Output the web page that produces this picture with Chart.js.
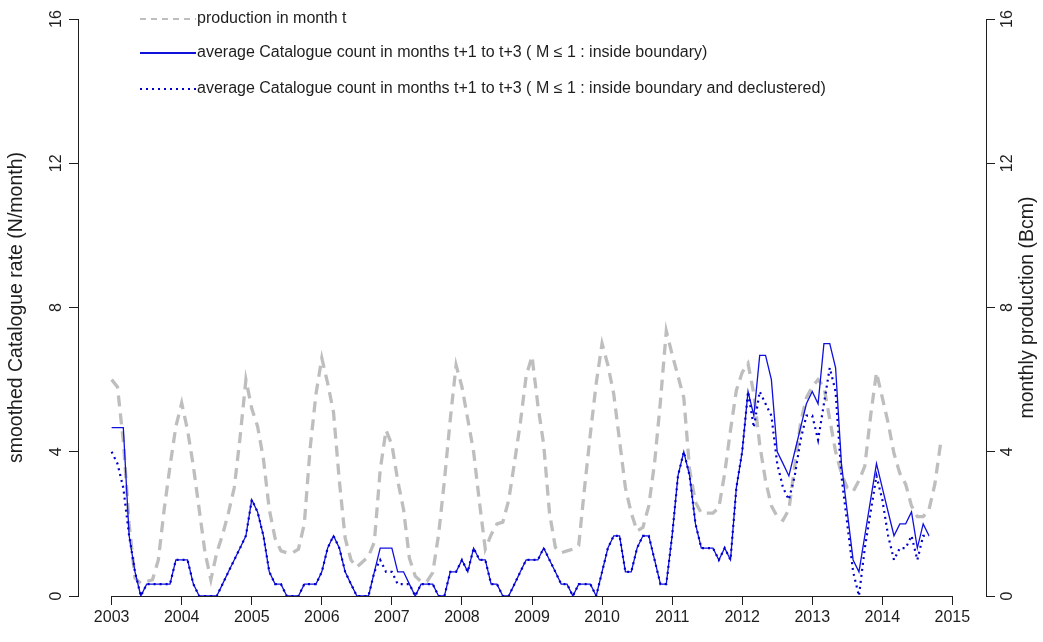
<!DOCTYPE html>
<html>
<head>
<meta charset="utf-8">
<script src="https://cdn.jsdelivr.net/npm/chart.js@4.4.1/dist/chart.umd.min.js"></script>
<style>
  html, body { margin: 0; padding: 0; background: #ffffff; }
  #wrap { width: 1043px; height: 642px; position: relative; }
</style>
</head>
<body>
<div id="wrap"><canvas id="chart" width="1043" height="642"></canvas></div>
<script>
// Monthly series, first value = January 2003
const startYear = 2003;
const yearTicks = [2003, 2004, 2005, 2006, 2007, 2008, 2009, 2010, 2011, 2012, 2013, 2014, 2015];
const rateTicks = [0, 4, 8, 12, 16];
const productionTicks = [0, 4, 8, 12, 16];

// production in month t (Bcm)
const production = [
  6.0, 5.8, 4.3, 2.0, 0.5, 0.35, 0.4, 0.45, 1.0, 2.4, 3.6, 4.7,
  5.35, 4.6, 3.6, 2.4, 1.2, 0.45, 1.2, 1.7, 2.3, 3.0, 4.4, 6.0,
  5.2, 4.7, 3.8, 2.4, 1.6, 1.25, 1.2, 1.2, 1.3, 2.0, 4.1, 5.6,
  6.6, 5.9, 5.1, 3.2, 1.6, 1.0, 0.8, 0.95, 1.1, 1.5, 3.5, 4.6,
  4.2, 3.2, 2.4, 1.05, 0.55, 0.4, 0.4, 0.65, 1.7, 3.2, 4.9, 6.4,
  5.8, 4.9, 4.0, 2.6, 1.3, 1.7, 2.0, 2.05, 2.65, 3.7, 4.8, 6.1,
  6.65, 5.3, 4.2, 2.3, 1.35, 1.2, 1.25, 1.3, 1.4, 3.0, 4.5, 5.9,
  7.0, 6.4, 5.6, 4.3, 3.0, 2.3, 1.8, 1.9, 2.5, 3.7, 5.4, 7.35,
  6.7, 6.1, 5.5, 3.5, 2.6, 2.3, 2.3, 2.3, 2.45, 3.4, 4.6, 5.7,
  6.2, 6.45, 5.6, 4.2, 3.2, 2.5, 2.2, 2.1, 2.4, 3.6, 4.8, 5.5,
  5.8, 6.0, 5.8, 4.9, 4.0, 3.4, 3.0, 2.9, 3.2, 3.6, 5.0, 6.2,
  5.5, 4.8, 3.95, 3.4, 3.1, 2.5, 2.2, 2.2, 2.4, 3.1, 4.25
];

// average catalogue count in months t+1 to t+3, M <= 1, inside boundary
const catalogueInside = [
  4.67, 4.67, 4.67, 1.67, 0.67, 0, 0.33, 0.33, 0.33, 0.33, 0.33, 1.0,
  1.0, 1.0, 0.33, 0, 0, 0, 0, 0.33, 0.67, 1.0, 1.33, 1.67,
  2.67, 2.33, 1.67, 0.67, 0.33, 0.33, 0, 0, 0, 0.33, 0.33, 0.33,
  0.67, 1.33, 1.67, 1.33, 0.67, 0.33, 0, 0, 0, 0.67, 1.33, 1.33,
  1.33, 0.67, 0.67, 0.33, 0, 0.33, 0.33, 0.33, 0, 0, 0.67, 0.67,
  1.0, 0.67, 1.33, 1.0, 1.0, 0.33, 0.33, 0, 0, 0.33, 0.67, 1.0,
  1.0, 1.0, 1.33, 1.0, 0.67, 0.33, 0.33, 0, 0.33, 0.33, 0.33, 0,
  0.67, 1.33, 1.67, 1.67, 0.67, 0.67, 1.33, 1.67, 1.67, 1.0, 0.33, 0.33,
  1.67, 3.33, 4.0, 3.33, 2.0, 1.33, 1.33, 1.33, 1.0, 1.33, 1.0, 3.0,
  4.0, 5.67, 5.0, 6.67, 6.67, 6.0, 4.0, 3.67, 3.33, 4.0, 4.67, 5.33,
  5.67, 5.33, 7.0, 7.0, 6.33, 3.67, 2.33, 1.0, 0.67, 1.67, 2.67, 3.67,
  3.0, 2.33, 1.67, 2.0, 2.0, 2.33, 1.33, 2.0, 1.67
];

// same count, inside boundary and declustered
const catalogueDeclustered = [
  4.0, 3.67, 3.0, 1.67, 0.67, 0, 0.33, 0.33, 0.33, 0.33, 0.33, 1.0,
  1.0, 1.0, 0.33, 0, 0, 0, 0, 0.33, 0.67, 1.0, 1.33, 1.67,
  2.67, 2.33, 1.67, 0.67, 0.33, 0.33, 0, 0, 0, 0.33, 0.33, 0.33,
  0.67, 1.33, 1.67, 1.33, 0.67, 0.33, 0, 0, 0, 0.67, 1.0, 0.67,
  0.67, 0.33, 0.33, 0.33, 0, 0.33, 0.33, 0.33, 0, 0, 0.67, 0.67,
  1.0, 0.67, 1.33, 1.0, 1.0, 0.33, 0.33, 0, 0, 0.33, 0.67, 1.0,
  1.0, 1.0, 1.33, 1.0, 0.67, 0.33, 0.33, 0, 0.33, 0.33, 0.33, 0,
  0.67, 1.33, 1.67, 1.67, 0.67, 0.67, 1.33, 1.67, 1.67, 1.0, 0.33, 0.33,
  1.67, 3.33, 4.0, 3.33, 2.0, 1.33, 1.33, 1.33, 1.0, 1.33, 1.0, 3.0,
  4.0, 5.67, 4.67, 5.67, 5.33, 5.0, 3.67, 3.0, 2.67, 3.33, 4.33, 5.0,
  5.0, 4.33, 5.33, 6.33, 5.67, 3.33, 2.0, 0.67, 0, 1.33, 2.33, 3.33,
  2.67, 1.67, 1.0, 1.33, 1.33, 1.67, 1.0, 1.67, 1.67
];

const seriesLabels = [
  'production in month t',
  'average Catalogue count in months t+1 to t+3 ( M \u2264 1 : inside boundary)',
  'average Catalogue count in months t+1 to t+3 ( M \u2264 1 : inside boundary and declustered)'
];

const FONT = "'Liberation Sans', Arial, sans-serif";
const INK = '#1e1e1e';

function monthly(values) {
  return values.map((v, i) => ({ x: startYear + i / 12, y: v }));
}

// x axis line runs only from the first to the last year tick
const axisLinePlugin = {
  id: 'axisLine',
  afterDraw(chart) {
    const { ctx, scales: { x, y } } = chart;
    const y0 = Math.round(y.getPixelForValue(0)) + 0.5;
    ctx.save();
    ctx.strokeStyle = INK;
    ctx.lineWidth = 1;
    ctx.beginPath();
    ctx.moveTo(x.getPixelForValue(yearTicks[0]), y0);
    ctx.lineTo(x.getPixelForValue(yearTicks[yearTicks.length - 1]), y0);
    ctx.stroke();
    ctx.restore();
  }
};

// right-hand axis title, reading bottom to top like the left one
const rightTitlePlugin = {
  id: 'rightTitle',
  afterDraw(chart) {
    const { ctx, chartArea } = chart;
    ctx.save();
    ctx.translate(1028, (chartArea.top + chartArea.bottom) / 2);
    ctx.rotate(-Math.PI / 2);
    ctx.font = '19.5px ' + FONT;
    ctx.fillStyle = INK;
    ctx.textAlign = 'center';
    ctx.textBaseline = 'middle';
    ctx.fillText('monthly production (Bcm)', 0, 0);
    ctx.restore();
  }
};

// legend stacked in the top-left corner of the plot
const stackedLegendPlugin = {
  id: 'stackedLegend',
  afterDraw(chart) {
    const { ctx } = chart;
    const rows = [19, 53, 89];
    const x0 = 140, x1 = 196;
    chart.data.datasets.forEach((ds, i) => {
      const yy = rows[i];
      ctx.save();
      ctx.strokeStyle = ds.borderColor;
      ctx.lineWidth = ds.legendWidth;
      ctx.setLineDash(ds.legendDash);
      ctx.beginPath();
      ctx.moveTo(x0, yy);
      ctx.lineTo(x1, yy);
      ctx.stroke();
      ctx.setLineDash([]);
      ctx.font = '16px ' + FONT;
      ctx.fillStyle = INK;
      ctx.textAlign = 'left';
      ctx.textBaseline = 'middle';
      ctx.fillText(ds.label, x1 + 1, yy);
      ctx.restore();
    });
  }
};

const tickFont = { family: FONT, size: 16 };

new Chart(document.getElementById('chart'), {
  type: 'line',
  data: {
    datasets: [
      {
        label: seriesLabels[0],
        data: monthly(production),
        yAxisID: 'yProd',
        borderColor: '#bebebe',
        borderWidth: 3.3,
        borderDash: [11, 7],
        borderCapStyle: 'butt',
        legendWidth: 2,
        legendDash: [6, 5],
        pointRadius: 0,
        tension: 0,
        order: 3
      },
      {
        label: seriesLabels[1],
        data: monthly(catalogueInside),
        yAxisID: 'y',
        borderColor: '#1010dd',
        borderWidth: 1.3,
        legendWidth: 2,
        legendDash: [],
        pointRadius: 0,
        tension: 0,
        order: 2
      },
      {
        label: seriesLabels[2],
        data: monthly(catalogueDeclustered),
        yAxisID: 'y',
        borderColor: '#0000cc',
        borderWidth: 2.2,
        borderDash: [2, 4],
        legendWidth: 2,
        legendDash: [2, 4],
        pointRadius: 0,
        tension: 0,
        order: 1
      }
    ]
  },
  options: {
    responsive: false,
    devicePixelRatio: 1,
    animation: false,
    layout: { padding: { top: 19, left: 0, right: 0, bottom: 0 } },
    plugins: { legend: { display: false }, tooltip: { enabled: false } },
    scales: {
      x: {
        type: 'linear',
        min: 2002.52,
        max: 2015.48,
        afterBuildTicks: s => { s.ticks = yearTicks.map(v => ({ value: v })); },
        afterFit: s => { s.height = 46; },
        ticks: { callback: v => String(v), font: tickFont, color: INK, padding: 3, autoSkip: false, maxRotation: 0 },
        grid: { display: true, drawOnChartArea: false, drawTicks: true, tickLength: 9, color: INK, tickColor: INK, lineWidth: 1 },
        border: { display: false }
      },
      y: {
        position: 'left',
        min: 0,
        max: 16,
        afterBuildTicks: s => { s.ticks = rateTicks.map(v => ({ value: v })); },
        afterFit: s => { s.width = 78; },
        ticks: { callback: v => String(v), font: tickFont, color: INK, minRotation: 90, maxRotation: 90, crossAlign: 'center', padding: 4, autoSkip: false },
        grid: { display: true, drawOnChartArea: false, drawTicks: true, tickLength: 9, color: INK, tickColor: INK, lineWidth: 1 },
        border: { display: true, color: INK, width: 1 },
        title: { display: true, text: 'smoothed Catalogue rate (N/month)', font: { family: FONT, size: 19.5 }, color: INK, padding: { top: 5, bottom: 0 } }
      },
      yProd: {
        position: 'right',
        min: 0,
        max: 16,
        afterBuildTicks: s => { s.ticks = productionTicks.map(v => ({ value: v })); },
        afterFit: s => { s.width = 57; },
        ticks: { callback: v => String(v), font: tickFont, color: INK, minRotation: 90, maxRotation: 90, crossAlign: 'center', padding: 4, autoSkip: false },
        grid: { display: true, drawOnChartArea: false, drawTicks: true, tickLength: 9, color: INK, tickColor: INK, lineWidth: 1 },
        border: { display: true, color: INK, width: 1 }
      }
    }
  },
  plugins: [axisLinePlugin, rightTitlePlugin, stackedLegendPlugin]
});
</script>
</body>
</html>
